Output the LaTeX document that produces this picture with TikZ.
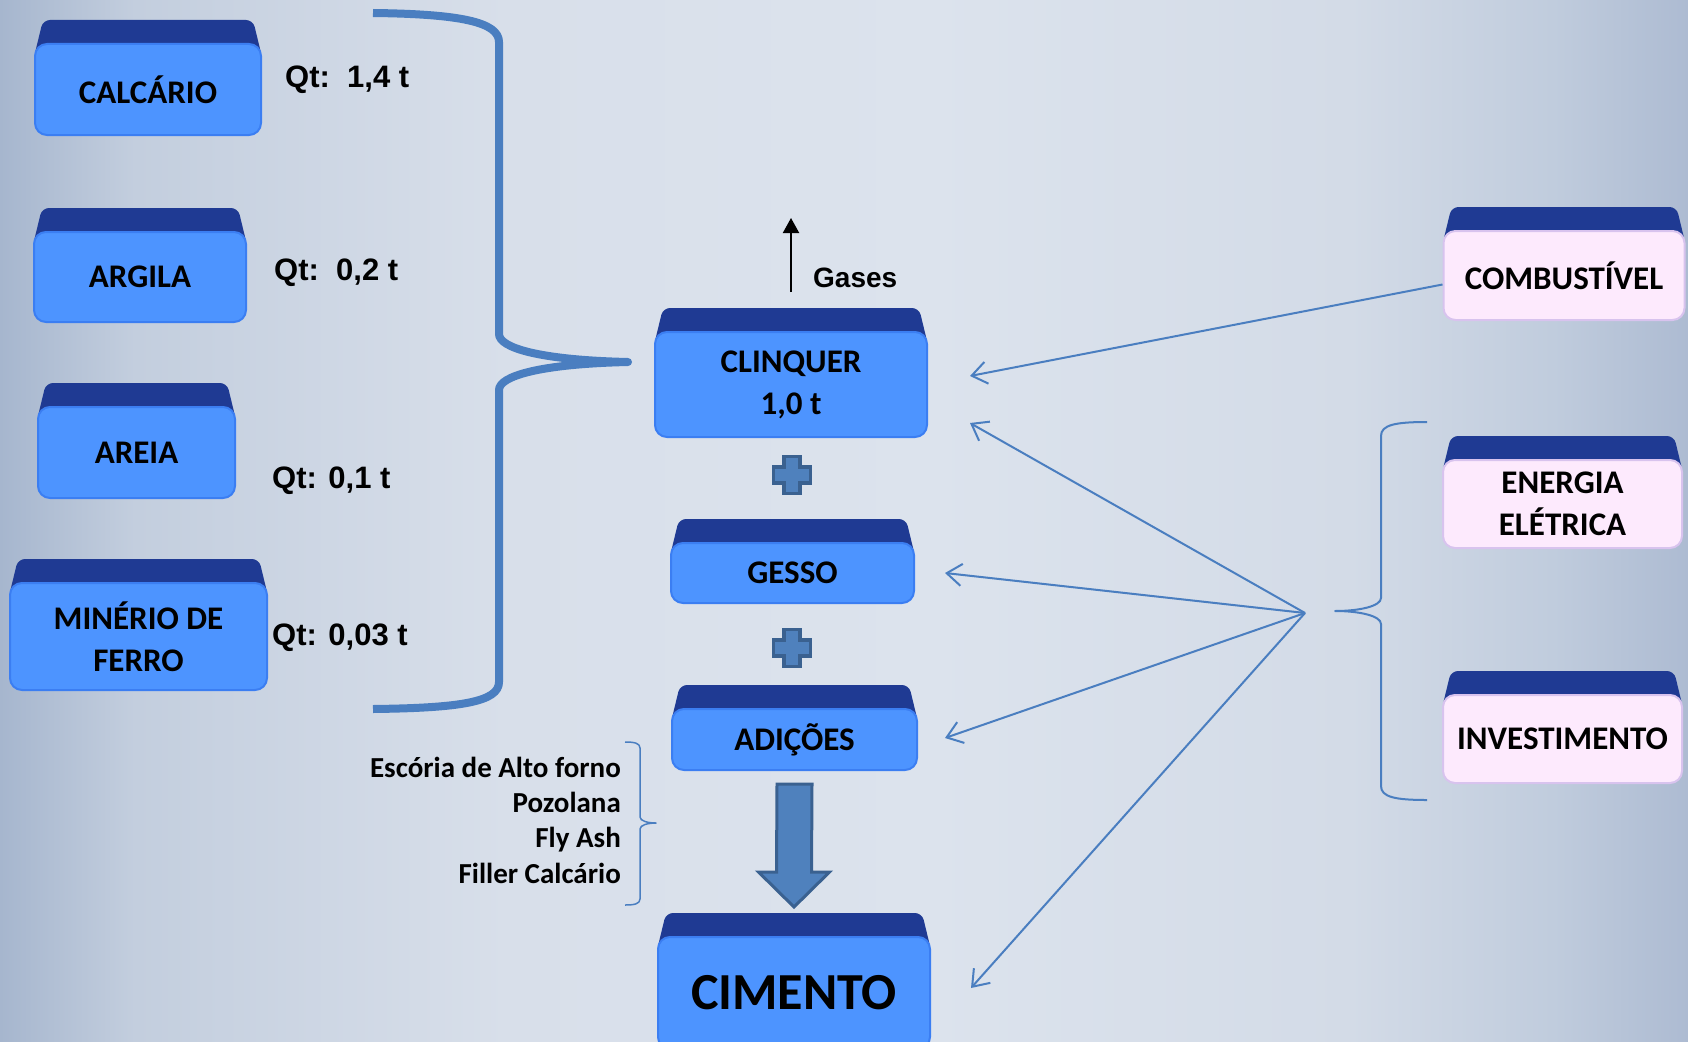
\documentclass[tikz,border=0pt]{standalone}
\usepackage{fontspec}
\setmainfont{Carlito}
\newfontfamily\arialfont{Liberation Sans}
\usepackage{tikz}
\usetikzlibrary{calc,arrows.meta,backgrounds}
\usepackage{xcolor}
\definecolor{bg0}{HTML}{A6B6CE}
\definecolor{bg1}{HTML}{C3CEDE}
\definecolor{bg2}{HTML}{D8DFEA}
\definecolor{bg3}{HTML}{DCE3ED}
\definecolor{bg4}{HTML}{D3DBE7}
\definecolor{bg5}{HTML}{C0CCDD}
\definecolor{bg6}{HTML}{ADBBD2}
\pgfdeclarehorizontalshading{bgshade}{100bp}{color(0bp)=(bg0); color(25bp)=(bg0); color(29bp)=(bg1);
    color(40bp)=(bg2); color(52.5bp)=(bg3); color(65bp)=(bg4); color(71bp)=(bg5); color(75bp)=(bg6); color(100bp)=(bg6)}
\definecolor{lidblue}{HTML}{1F3A93}
\definecolor{boxblue}{HTML}{4D94FF}
\definecolor{boxline}{HTML}{3B7EF2}
\definecolor{pinkfill}{HTML}{FDEAFD}
\definecolor{pinkline}{HTML}{D8C3EE}
\definecolor{mblue}{HTML}{4A7EC0}
\definecolor{pfill}{HTML}{4F81BD}
\definecolor{pline}{HTML}{3A6190}
\newcommand{\boxfont}{\fontsize{33}{42}\selectfont\bfseries}
\newcommand{\qtfont}{\arialfont\fontsize{31}{36}\selectfont\bfseries}
\newcommand{\addfont}{\fontsize{29}{35.3}\selectfont\bfseries}
\tikzstyle{box}=[rectangle, rounded corners=12pt, draw=boxline, fill=boxblue, line width=2pt, inner sep=0pt, align=center, font=\boxfont]
\tikzstyle{pinkbox}=[box, draw=pinkline, fill=pinkfill]
\tikzstyle{lid}=[fill=lidblue, rounded corners=7pt]
\tikzstyle{qt}=[anchor=base west, inner sep=0pt, font=\qtfont]
\tikzstyle{l1}=[line width=2pt, color=mblue, line join=round]
\tikzstyle{feed}=[l1, -{Straight Barb[length=15pt, width=22pt]}]
\tikzstyle{plussign}=[fill=pfill, draw=pline, line width=3.5pt]

\begin{document}
\begin{tikzpicture}[x=1pt, y=-1pt]
    \useasboundingbox (0,0) rectangle (1688,1041);

    % materias primas
    \node (calc) [box, minimum width=226pt, minimum height=91pt] at (148,89.5) {CALCÁRIO};
    \node (arg) [box, minimum width=212pt, minimum height=90pt] at (140,277) {ARGILA};
    \node (areia) [box, minimum width=197pt, minimum height=91pt] at (136.5,452.5) {AREIA};
    \node (fer) [box, minimum width=257pt, minimum height=107pt] at (138.5,636.5) {MINÉRIO DE\\FERRO};
    \node (qcalc) [qt] at (285,87) {Qt:\ \ 1,4 t};
    \node (qarg) [qt] at (274,280) {Qt:\ \ 0,2 t};
    \node (qareia) [qt] at (272,488) {Qt: 0,1 t};
    \node (qfer) [qt] at (272,645) {Qt: 0,03 t};
    \draw[l1, line width=8pt] (373,13) .. controls (460,14) and (499,22) .. (499,42) -- (499,334)
        .. controls (499,348) and (540,360) .. (628,362) .. controls (540,364) and (499,376) .. (499,390)
        -- (499,682) .. controls (499,702) and (460,708) .. (373,709);

    % produto
    \node (clin) [box, minimum width=272pt, minimum height=105pt] at (791,384.5) {CLINQUER\\1,0 t};
    \node (gesso) [box, minimum width=243pt, minimum height=60pt] at (792.5,573) {GESSO};
    \node (adic) [box, minimum width=245pt, minimum height=61pt] at (794.5,739.5) {ADIÇÕES};
    \node (cim) [box, minimum width=272pt, minimum height=112pt, font=\fontsize{52}{60}\selectfont\bfseries] at (794,993) {CIMENTO};
    \coordinate (gasout) at (791,218);
    \draw[line width=2pt, -{Triangle[length=15pt, width=16pt]}] ([yshift=39pt]clin.north) -- (gasout);
    \node (gas) [anchor=base west, inner sep=0pt, font=\arialfont\fontsize{28}{32}\selectfont\bfseries] at (813,287) {Gases};
    \foreach \y in {475,648}
        \filldraw[plussign] (792,\y) ++(-8,-18.5) -- ++(16,0) -- ++(0,10.5) -- ++(10.5,0) -- ++(0,16) -- ++(-10.5,0)
            -- ++(0,10.5) -- ++(-16,0) -- ++(0,-10.5) -- ++(-10.5,0) -- ++(0,-16) -- ++(10.5,0) -- cycle;
    \filldraw[plussign, line width=3pt] ([xshift=-17.5pt,yshift=-13pt]adic.south) -- ([xshift=17.5pt,yshift=-13pt]adic.south)
        -- ([xshift=17.5pt,yshift=64pt]cim.north) -- ([xshift=35.5pt,yshift=64pt]cim.north) -- ([yshift=29pt]cim.north)
        -- ([xshift=-35.5pt,yshift=64pt]cim.north) -- ([xshift=-17.5pt,yshift=64pt]cim.north) -- cycle;
    \node (adds) [align=right, anchor=east, inner sep=0pt, font=\addfont] at (621,820)
        {Escória de Alto forno\\Pozolana\hspace*{10pt}\\Fly Ash\\Filler Calcário};
    \draw[l1, line width=1.5pt] (625,742) .. controls (634,742) and (640,743) .. (640,748) -- (640,817)
        .. controls (640,821) and (648,823) .. (656,823) .. controls (648,823) and (640,825) .. (640,829)
        -- (640,899) .. controls (640,904) and (634,905) .. (625,905);

    % insumos
    \node (comb) [pinkbox, minimum width=241pt, minimum height=89pt] at (1564,275.5) {COMBUSTÍVEL};
    \node (ener) [pinkbox, minimum width=239pt, minimum height=88pt] at (1562.5,504) {ENERGIA\\ELÉTRICA};
    \node (inv) [pinkbox, minimum width=239pt, minimum height=88pt] at (1562.5,739) {INVESTIMENTO};
    \draw[l1] (1427,422) .. controls (1395,422) and (1381,425) .. (1381,436) -- (1381,598)
        .. controls (1381,606) and (1360,611) .. (1335,611) .. controls (1360,611) and (1381,616) .. (1381,624)
        -- (1381,786) .. controls (1381,797) and (1395,800) .. (1427,800);
    \coordinate (hub) at (1305,613);
    \draw[feed] ([yshift=-9pt]comb.west) -- ([xshift=42pt,yshift=8.5pt]clin.east);
    \foreach \t/\dx/\dy in {clin/42/-38.5, gesso/30/0, adic/27/1.5, cim/40/5}
        \draw[feed] (hub) -- ([xshift=\dx pt,yshift=\dy pt]\t.east);

    \begin{scope}[on background layer]
        \shade[shading=bgshade] (0,0) rectangle (1688,1041);
        \foreach \b in {calc,arg,areia,fer,clin,gesso,adic,cim,comb,ener,inv}
            \fill[lid] ([yshift=-14pt]\b.north west) -- ([xshift=9pt,yshift=23pt]\b.north west)
                -- ([xshift=-9pt,yshift=23pt]\b.north east) -- ([yshift=-14pt]\b.north east) -- cycle;
    \end{scope}
\end{tikzpicture}
\end{document}
